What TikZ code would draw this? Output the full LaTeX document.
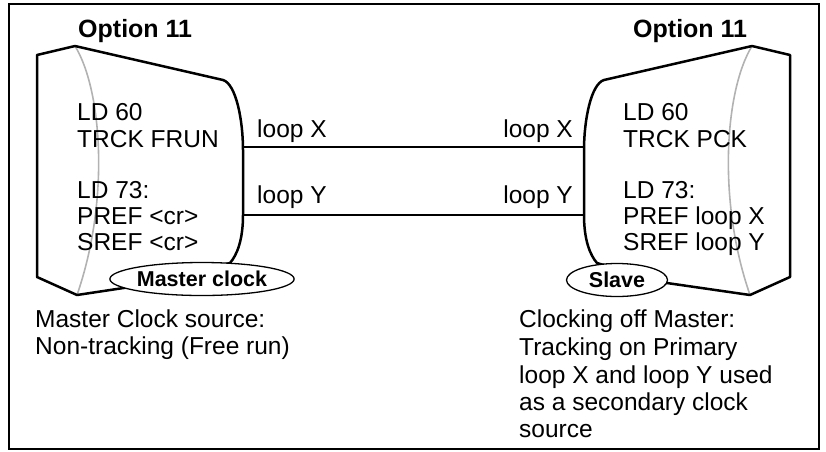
\documentclass[tikz,border=0pt]{standalone}
\usepackage{fontspec}
\setmainfont{Liberation Sans}
\usetikzlibrary{shapes.geometric}

\begin{document}
\begin{tikzpicture}[x=1pt,y=-1pt,
    txt/.style={anchor=base west, inner sep=0pt, font=\fontsize{24.5}{29}\selectfont},
    rtxt/.style={txt, anchor=base east},
    ttl/.style={txt, font=\fontsize{25}{30}\selectfont\bfseries},
    tag/.style={draw, ellipse, fill=white, line width=1.3pt, inner sep=0pt, font=\fontsize{21.5}{26}\selectfont\bfseries},
    body/.style={line width=2.5pt, line join=round},
    fold/.style={black!30, line width=1.6pt},
    link/.style={line width=2pt}]
    \useasboundingbox (0,0) rectangle (826,451);
    \draw[line width=2.8pt] (9,4) rectangle (819,449);

    % master side
    \draw[fold] (75,46) .. controls (102,90) and (110,200) .. (77,295);
    \draw[body] (37,55) -- (75,46) -- (223,80)
        .. controls (236,84) and (243,120) .. (243,150) coordinate (mx) -- (243,215)
        .. controls (243,240) and (237,255) .. (230,263) -- (150,284) -- (77,295) -- (37,277) -- cycle;
    \coordinate (my) at (243,215);
    \node[tag, minimum width=166pt, minimum height=33pt] (mclk) at (202,279) {Master clock};

    % slave side
    \draw[fold] (752,46) .. controls (725,90) and (717,200) .. (750,295);
    \draw[body] (790,55) -- (752,46) -- (604,80)
        .. controls (591,84) and (584,120) .. (584,150) coordinate (sx) -- (584,215)
        .. controls (584,240) and (590,255) .. (597,263) -- (660,282) -- (750,295) -- (790,277) -- cycle;
    \coordinate (sy) at (584,215);
    \node[tag, minimum width=101pt, minimum height=33pt] (slv) at (617,280) {Slave};

    \draw[link] (mx |- 0,147) -- (sx |- 0,147);
    \draw[link] (my) -- (sy);

    \node[ttl] (mopt) at (78,37) {Option 11};
    \node[ttl] (sopt) at (633,37) {Option 11};

    \node[txt] (mlx) at (257,137) {loop X};
    \node[txt] (mly) at (257,203) {loop Y};
    \node[rtxt] (slx) at (573,137) {loop X};
    \node[rtxt] (sly) at (573,203) {loop Y};

    \foreach \y/\t [count=\i] in {120/LD 60, 147/TRCK FRUN, 198/LD 73:, 224/PREF <cr>, 250/SREF <cr>}
        \node[txt] (mcfg\i) at (77,\y) {\t};
    \foreach \y/\t [count=\i] in {120/LD 60, 147/TRCK PCK, 198/LD 73:, 224/PREF loop X, 250/SREF loop Y}
        \node[txt] (scfg\i) at (623,\y) {\t};

    \foreach \y/\t [count=\i] in {327/Master Clock source:, 354/Non-tracking (Free run)}
        \node[txt] (mnote\i) at (35,\y) {\t};
    \foreach \y/\t [count=\i] in {327/Clocking off Master:, 355/Tracking on Primary, 383/loop X and loop Y used, 410/as a secondary clock, 437/source}
        \node[txt] (snote\i) at (519,\y) {\t};
\end{tikzpicture}
\end{document}
